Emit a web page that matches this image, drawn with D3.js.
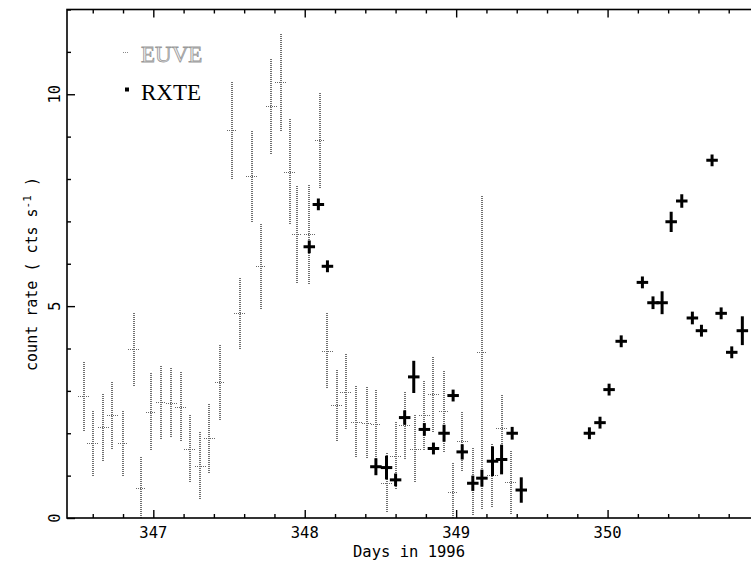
<!DOCTYPE html>
<html><head><meta charset="utf-8">
<script src="https://cdn.jsdelivr.net/npm/d3@7"></script>
<style>body{margin:0;background:#fff}svg{display:block}</style>
</head><body>
<svg id="c" width="751" height="564"></svg>
<script>
// ---- data ----
const euveDay  = [346.54,346.60,346.67,346.73,346.80,346.87,346.92,346.985,347.05,347.12,347.18,347.24,347.31,347.37,347.44,347.52,347.57,347.65,347.71,347.78,347.84,347.90,347.95,348.03,348.10,348.15,348.21,348.27,348.34,348.41,348.47,348.54,348.60,348.66,348.73,348.79,348.85,348.92,348.98,349.04,349.11,349.17,349.24,349.30,349.36];
const euveRate = [2.88,1.76,2.14,2.43,1.76,3.99,0.70,2.51,2.74,2.72,2.63,1.64,1.23,1.89,3.21,9.15,4.83,8.07,5.94,9.72,10.29,8.17,6.71,6.71,8.92,3.95,2.67,2.98,2.27,2.25,2.22,0.83,1.47,2.19,1.64,2.43,2.92,2.52,0.62,1.82,0.86,3.92,1.01,2.13,0.84];
const euveErr  = [0.83,0.77,0.79,0.80,0.77,0.88,0.76,0.91,0.88,0.82,0.82,0.78,0.79,0.83,0.90,1.15,0.85,1.08,1.00,1.14,1.16,1.24,1.16,1.18,1.14,0.88,0.85,0.88,0.84,0.84,0.82,0.70,0.79,0.80,0.79,0.83,0.89,0.97,0.70,0.71,0.80,3.70,0.75,0.77,0.75];
const rxteDay  = [348.03,348.09,348.15,348.47,348.54,348.60,348.66,348.72,348.79,348.85,348.92,348.98,349.04,349.11,349.17,349.24,349.30,349.37,349.43,349.88,349.95,350.01,350.09,350.23,350.30,350.36,350.42,350.49,350.56,350.62,350.69,350.75,350.82,350.89,350.99];
const rxteRate = [6.40,7.40,5.94,1.21,1.19,0.90,2.37,3.33,2.09,1.64,2.00,2.89,1.56,0.82,0.94,1.34,1.38,2.00,0.66,2.00,2.25,3.03,4.17,5.56,5.08,5.08,6.99,7.48,4.72,4.42,8.44,4.83,3.91,4.42,5.00];
const rxteErr  = [0.15,0.13,0.12,0.20,0.28,0.15,0.17,0.38,0.15,0.10,0.20,0.10,0.18,0.18,0.20,0.35,0.35,0.15,0.30,0.12,0.10,0.12,0.12,0.12,0.15,0.27,0.24,0.16,0.15,0.12,0.12,0.10,0.10,0.34,0.15];
const xDomain = [346.43, 351.0];
const yDomain = [0, 12];
const xMajor = [347, 348, 349, 350, 351];
const xLabels = [347, 348, 349, 350];
const yMajor = [0, 5, 10];
const legendLabels = ["EUVE", "RXTE"];
const xTitle = "Days in 1996";

// ---- layout ----
const svg = d3.select("#c");
const L = 67, T = 9.5, R = 759, B = 518;
const x = d3.scaleLinear().domain(xDomain).range([L, R]);
const y = d3.scaleLinear().domain(yDomain).range([B, T]);
const mono = "'DejaVu Sans Mono', 'Liberation Mono', monospace";

const xMinor = d3.range(346.6, 351.01, 0.2).map(v => +v.toFixed(1)).filter(v => !xMajor.includes(v));
const yMinor = d3.range(0, 12.01, 1).filter(v => !yMajor.includes(v));

function styleAxis(g){ g.select(".domain").remove(); g.selectAll("line").attr("stroke","#000").attr("stroke-width",1.4); }

svg.append("g").attr("transform",`translate(0,${B})`)
  .call(d3.axisBottom(x).tickValues(xMajor).tickSize(-8).tickFormat(""))
  .call(styleAxis);
svg.append("g").attr("transform",`translate(0,${B})`)
  .call(d3.axisBottom(x).tickValues(xMinor).tickSize(-4).tickFormat(""))
  .call(styleAxis);
svg.append("g").attr("transform",`translate(0,${T})`)
  .call(d3.axisTop(x).tickValues(xMajor).tickSize(-8).tickFormat(""))
  .call(styleAxis);
svg.append("g").attr("transform",`translate(0,${T})`)
  .call(d3.axisTop(x).tickValues(xMinor).tickSize(-4).tickFormat(""))
  .call(styleAxis);
svg.append("g").attr("transform",`translate(${L},0)`)
  .call(d3.axisLeft(y).tickValues(yMajor).tickSize(-8).tickFormat(""))
  .call(styleAxis);
svg.append("g").attr("transform",`translate(${L},0)`)
  .call(d3.axisLeft(y).tickValues(yMinor).tickSize(-4).tickFormat(""))
  .call(styleAxis);

svg.append("g").selectAll("text").data(xLabels).join("text")
  .attr("x", d => x(d)).attr("y", 538)
  .attr("text-anchor","middle").attr("font-family",mono).attr("font-size",15.5)
  .text(d => d);
svg.append("g").selectAll("text").data(yMajor).join("text")
  .attr("transform", d => `translate(60,${y(d)}) rotate(-90)`)
  .attr("text-anchor","middle").attr("font-family",mono).attr("font-size",15.5)
  .text(d => d);
svg.append("text").attr("x", 409).attr("y", 557)
  .attr("text-anchor","middle").attr("font-family",mono).attr("font-size",15.5)
  .text(xTitle);
const yt = svg.append("text").attr("transform","translate(37,274) rotate(-90)")
  .attr("text-anchor","middle").attr("font-family",mono).attr("font-size",15);
yt.append("tspan").text("count rate ( cts s");
yt.append("tspan").attr("dy",-6).attr("font-size",11).text("-1");
yt.append("tspan").attr("dy",6).text(" )");

svg.append("clipPath").attr("id","pc").append("rect").attr("x",L).attr("y",T).attr("width",R-L).attr("height",B-T);
const plot = svg.append("g").attr("clip-path","url(#pc)");

// EUVE (gray dotted)
const eu = euveDay.map((d,i)=>({d, r:euveRate[i], e:euveErr[i]}));
const px = v => Math.round(x(v));
const py = v => Math.round(y(v));
const gE = plot.append("g").attr("stroke","#707070").attr("stroke-width",2)
  .attr("stroke-dasharray","1,1").attr("shape-rendering","crispEdges").attr("fill","none");
gE.selectAll("line.v").data(eu).join("line").attr("class","v")
  .attr("x1",p=>px(p.d)).attr("x2",p=>px(p.d))
  .attr("y1",p=>py(Math.max(0,p.r-p.e))).attr("y2",p=>py(p.r+p.e));
gE.selectAll("line.h").data(eu).join("line").attr("class","h")
  .attr("x1",p=>px(p.d-0.035)).attr("x2",p=>px(p.d+0.035))
  .attr("y1",p=>py(p.r)+0.5).attr("y2",p=>py(p.r)+0.5).attr("stroke-width",1.5).attr("stroke","#6a6a6a");

// RXTE (black crosses)
const rx = rxteDay.map((d,i)=>({d, r:rxteRate[i], e:rxteErr[i]}));
const gR = plot.append("g").attr("stroke","#000").attr("stroke-width",3);
gR.selectAll("line.v").data(rx).join("line").attr("class","v")
  .attr("x1",p=>x(p.d)).attr("x2",p=>x(p.d))
  .attr("y1",p=>y(p.r-Math.max(p.e,0.14))).attr("y2",p=>y(p.r+Math.max(p.e,0.14)));
gR.selectAll("line.h").data(rx).join("line").attr("class","h")
  .attr("x1",p=>x(p.d-0.038)).attr("x2",p=>x(p.d+0.038))
  .attr("y1",p=>y(p.r)).attr("y2",p=>y(p.r));

svg.append("rect").attr("x",L).attr("y",T).attr("width",R-L).attr("height",B-T)
  .attr("fill","none").attr("stroke","#000").attr("stroke-width",1.6);

// legend
const serif = "'Liberation Serif', 'DejaVu Serif', serif";
svg.append("line").attr("x1",123).attr("x2",129).attr("y1",52.5).attr("y2",52.5)
  .attr("stroke","#888").attr("stroke-width",1).attr("stroke-dasharray","1,1").attr("shape-rendering","crispEdges");
svg.append("text").attr("x",141).attr("y",62).attr("font-family",serif).attr("font-size",23)
  .attr("fill","#eeeeee").attr("stroke","#999").attr("stroke-width",0.8)
  .text(legendLabels[0]);
svg.append("rect").attr("x",125).attr("y",87.5).attr("width",4).attr("height",4).attr("fill","#000");
svg.append("text").attr("x",141).attr("y",99.5).attr("font-family",serif).attr("font-size",23)
  .attr("fill","#000").text(legendLabels[1]);
</script>
</body></html>
